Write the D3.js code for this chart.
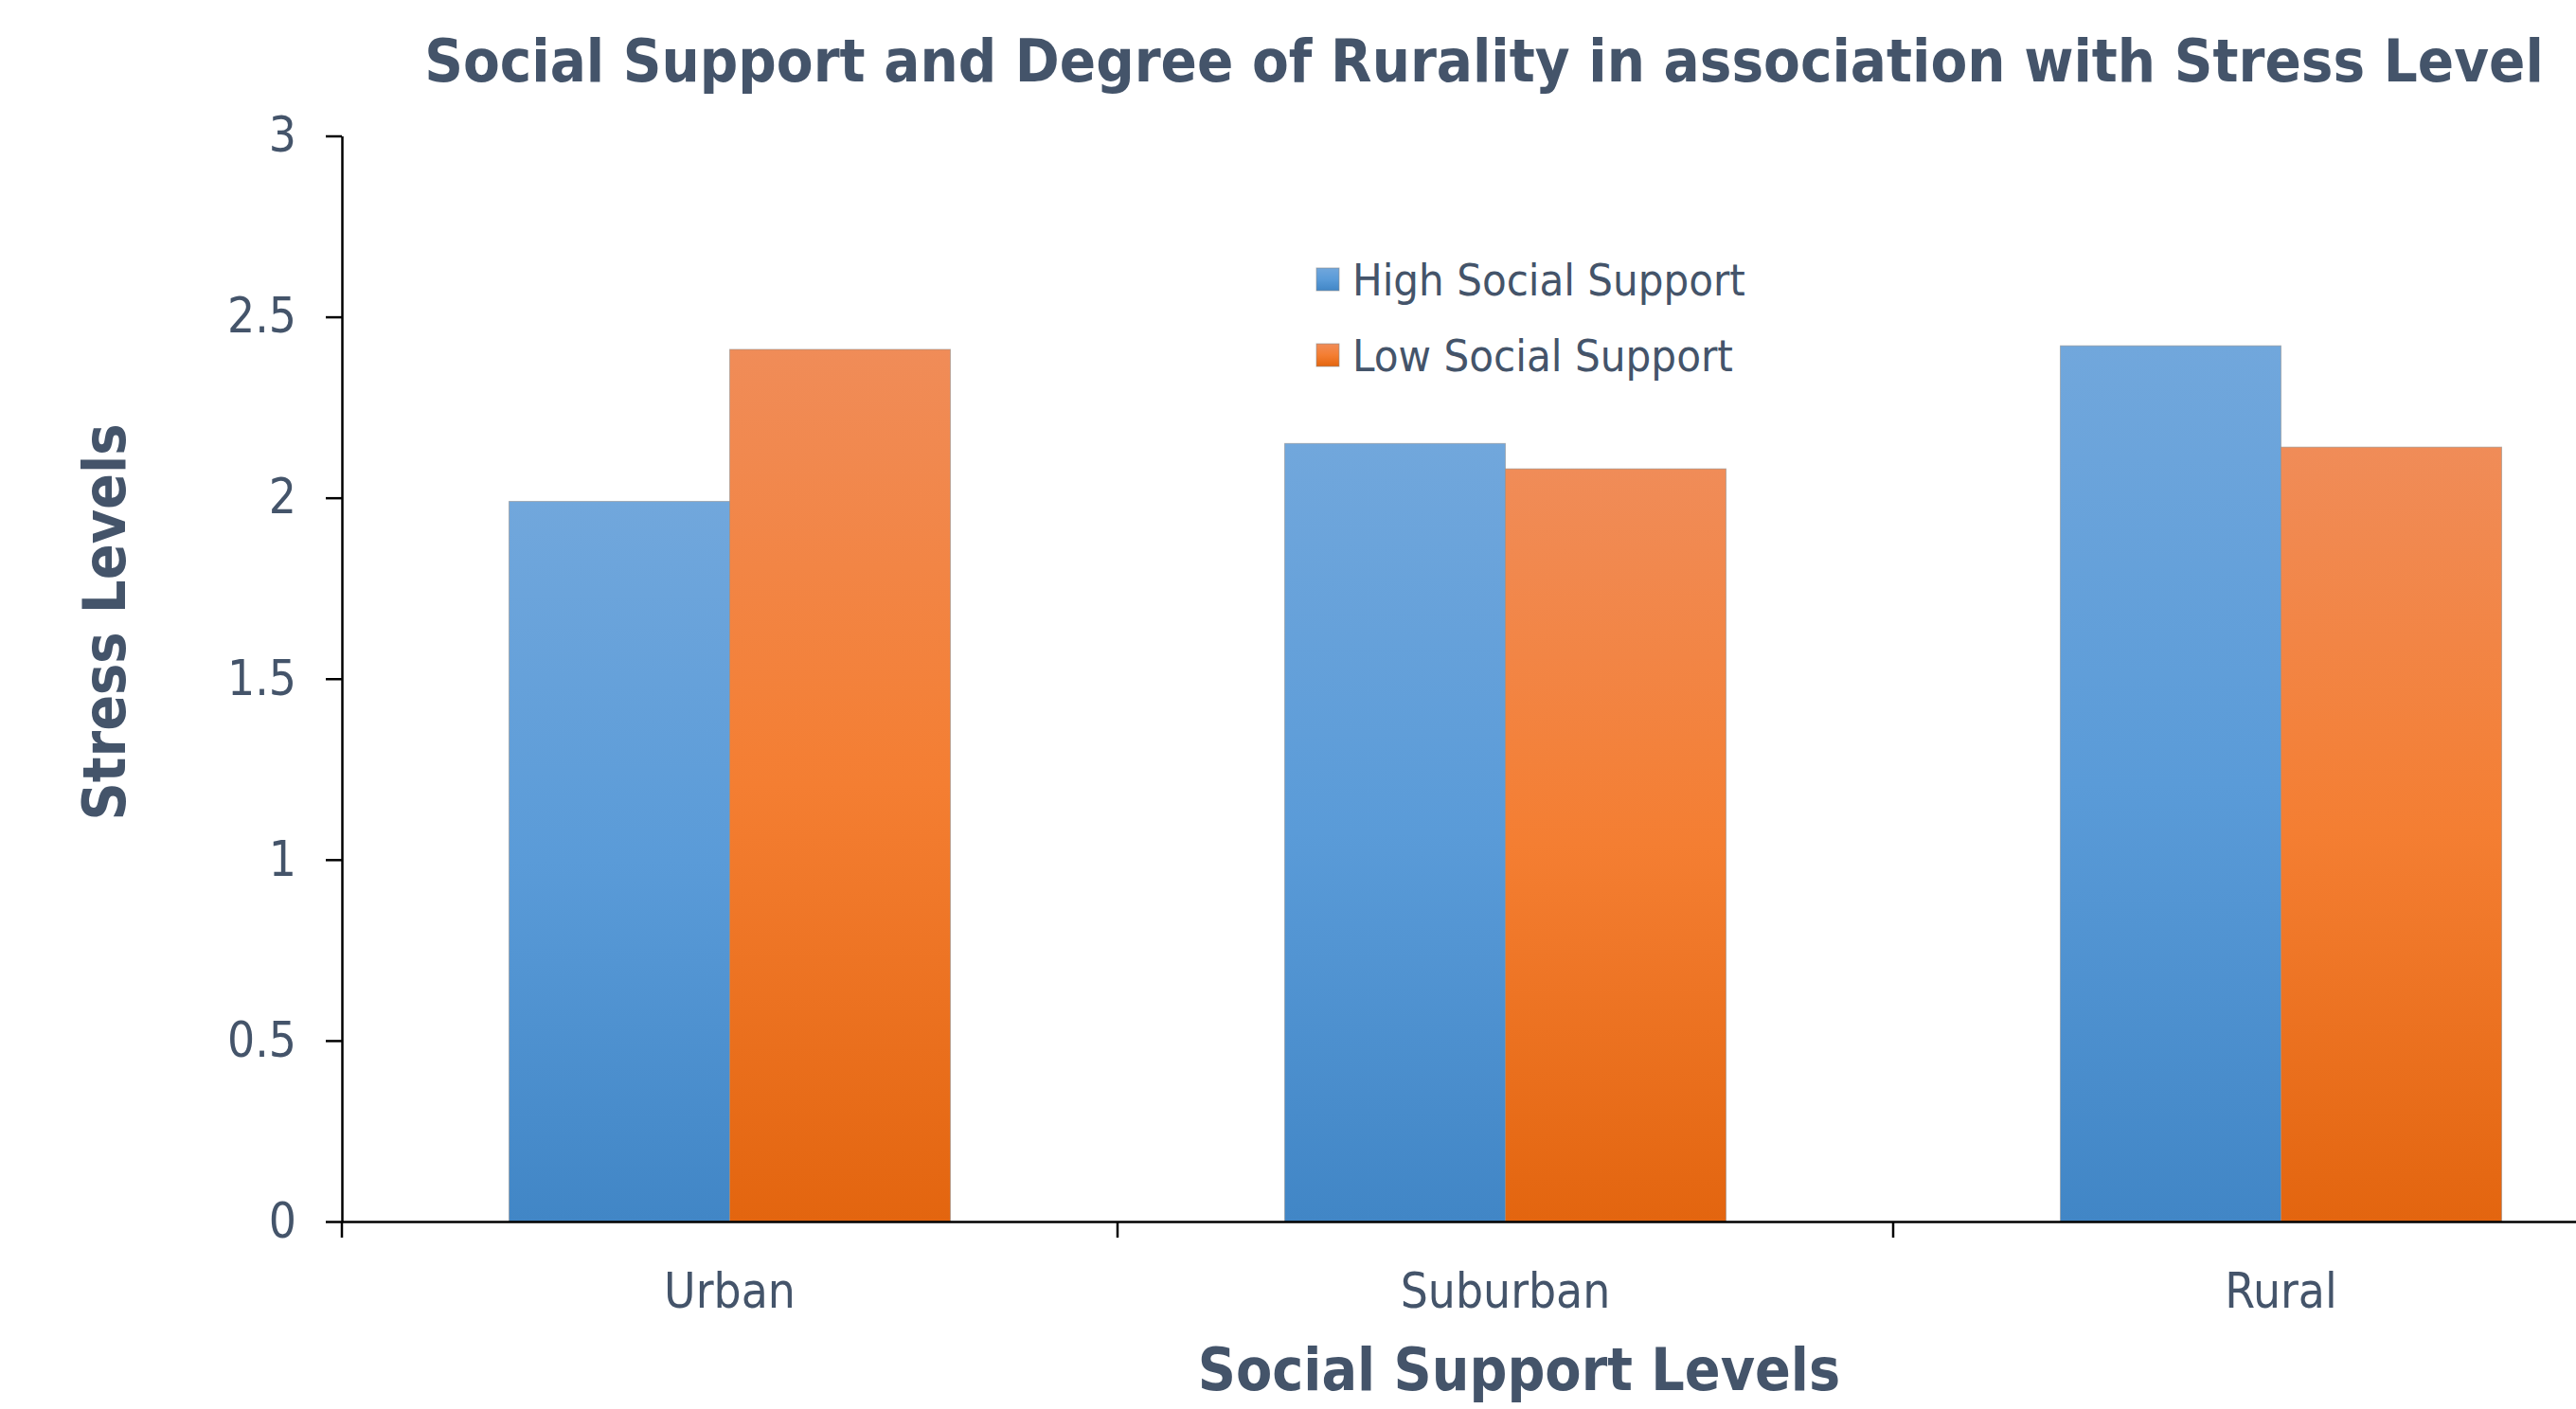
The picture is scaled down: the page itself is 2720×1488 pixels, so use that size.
<!DOCTYPE html>
<html>
<head>
<meta charset="utf-8">
<script src="https://cdn.jsdelivr.net/npm/d3@7"></script>
<style>
  html, body { margin: 0; padding: 0; background: #ffffff; overflow: hidden; }
  svg { display: block; }
  text { font-family: "DejaVu Sans", Verdana, sans-serif; fill: #44546A; }
  .cond { font-family: "DejaVu Sans Condensed", "DejaVu Sans", Verdana, sans-serif; }
</style>
</head>
<body>
<svg id="chart" width="2720" height="1488"></svg>
<script>
// ---- data ----
const categories = ["Urban", "Suburban", "Rural"];
const seriesNames = ["High Social Support", "Low Social Support"];
const highSupport = [1.99, 2.15, 2.42];
const lowSupport = [2.41, 2.08, 2.14];
const yTicks = [0, 0.5, 1, 1.5, 2, 2.5, 3];
const yTickLabels = ["0", "0.5", "1", "1.5", "2", "2.5", "3"];
const titleText = "Social Support and Degree of Rurality in association with Stress Level";
const xTitle = "Social Support Levels";
const yTitle = "Stress Levels";

(function () {
const rows = categories.map((c, i) => ({ cat: c, values: [highSupport[i], lowSupport[i]] }));

// ---- layout ----
const plotLeft = 361, plotRight = 2818, plotTop = 143.5, plotBottom = 1290;
const svg = d3.select("#chart");

// shrink a text's font size until its natural width fits the target width
function fit(sel, target, maxSize) {
  sel.attr("font-size", maxSize);
  const len = sel.node().getComputedTextLength();
  if (len > target) sel.attr("font-size", maxSize * target / len);
  return sel;
}

const defs = svg.append("defs");
function grad(id, stops) {
  const g = defs.append("linearGradient").attr("id", id)
    .attr("x1", 0).attr("y1", 0).attr("x2", 0).attr("y2", 1);
  stops.forEach(s => g.append("stop").attr("offset", s[0]).attr("stop-color", s[1]));
}
grad("gBlue", [[0, "#71A7DC"], [0.5, "#5A9BD8"], [1, "#4186C6"]]);
grad("gOrange", [[0, "#F08C58"], [0.5, "#F47E32"], [1, "#E3650F"]]);
const fills = ["url(#gBlue)", "url(#gOrange)"];

const x = d3.scaleBand().domain(categories).range([plotLeft, plotRight])
  .paddingInner(0.431).paddingOuter(0.2155);
const xs = d3.scaleBand().domain(d3.range(seriesNames.length)).range([0, x.bandwidth()]).padding(0);
const y = d3.scaleLinear().domain([0, 3]).range([plotBottom, plotTop]);

// bars
const groups = svg.append("g").selectAll("g").data(rows).join("g")
  .attr("transform", d => `translate(${x(d.cat)},0)`);
groups.selectAll("rect").data(d => d.values.map((v, i) => ({ v, i }))).join("rect")
  .attr("x", d => xs(d.i))
  .attr("width", xs.bandwidth())
  .attr("y", d => y(d.v))
  .attr("height", d => y(0) - y(d.v))
  .attr("fill", d => fills[d.i])
  .attr("stroke", "rgba(140,140,140,0.55)")
  .attr("stroke-width", 1);

// y axis
const yAxis = d3.axisLeft(y).tickValues(yTicks).tickFormat((d, i) => yTickLabels[i])
  .tickSize(17).tickSizeOuter(0).tickPadding(31);
const gy = svg.append("g").attr("transform", `translate(${plotLeft},0)`).call(yAxis);
gy.select(".domain").attr("stroke", "#000").attr("stroke-width", 2.5);
gy.selectAll(".tick line").attr("stroke", "#000").attr("stroke-width", 2.5);
gy.selectAll(".tick text").attr("font-size", 51).attr("fill", "#44546A")
  .style("font-family", '"DejaVu Sans Condensed", "DejaVu Sans", Verdana, sans-serif');

// x axis
const xAxis = d3.axisBottom(x).tickSize(0).tickPadding(55).tickSizeOuter(0);
const gx = svg.append("g").attr("transform", `translate(0,${plotBottom})`).call(xAxis);
gx.select(".domain").attr("stroke", "#000").attr("stroke-width", 2.5);
gx.selectAll(".tick text").attr("font-size", 51).attr("fill", "#44546A")
  .attr("dy", "0.71em")
  .style("font-family", '"DejaVu Sans Condensed", "DejaVu Sans", Verdana, sans-serif');
// category boundary ticks
const bounds = d3.range(categories.length + 1).map(i => plotLeft + i * x.step());
gx.selectAll("line.bound").data(bounds).join("line").attr("class", "bound")
  .attr("x1", d => d).attr("x2", d => d).attr("y1", 0).attr("y2", 17)
  .attr("stroke", "#000").attr("stroke-width", 2.5);

// title
fit(svg.append("text").attr("class", "cond").attr("x", 1567).attr("y", 86).attr("text-anchor", "middle")
  .attr("font-weight", "bold").text(titleText), 2238, 64);

// x title
fit(svg.append("text").attr("class", "cond").attr("x", 1604).attr("y", 1468).attr("text-anchor", "middle")
  .attr("font-weight", "bold").text(xTitle), 686, 62);

// y title
fit(svg.append("text").attr("class", "cond").attr("transform", "translate(132,657) rotate(-90)")
  .attr("text-anchor", "middle").attr("font-weight", "bold").text(yTitle), 419, 66);

// legend
const legend = svg.append("g").attr("transform", "translate(1390,283)");
const li = legend.selectAll("g").data(seriesNames).join("g")
  .attr("transform", (d, i) => `translate(0,${i * 80})`);
li.append("rect").attr("width", 24).attr("height", 24)
  .attr("fill", (d, i) => fills[i])
  .attr("stroke", "rgba(140,140,140,0.6)").attr("stroke-width", 1);
const legendWidths = [415, 402];
li.append("text").attr("class", "cond").attr("x", 38).attr("y", 12).attr("dy", "0.36em")
  .text(d => d)
  .each(function (d, i) { fit(d3.select(this), legendWidths[i], 50); });
})();
</script>
</body>
</html>
